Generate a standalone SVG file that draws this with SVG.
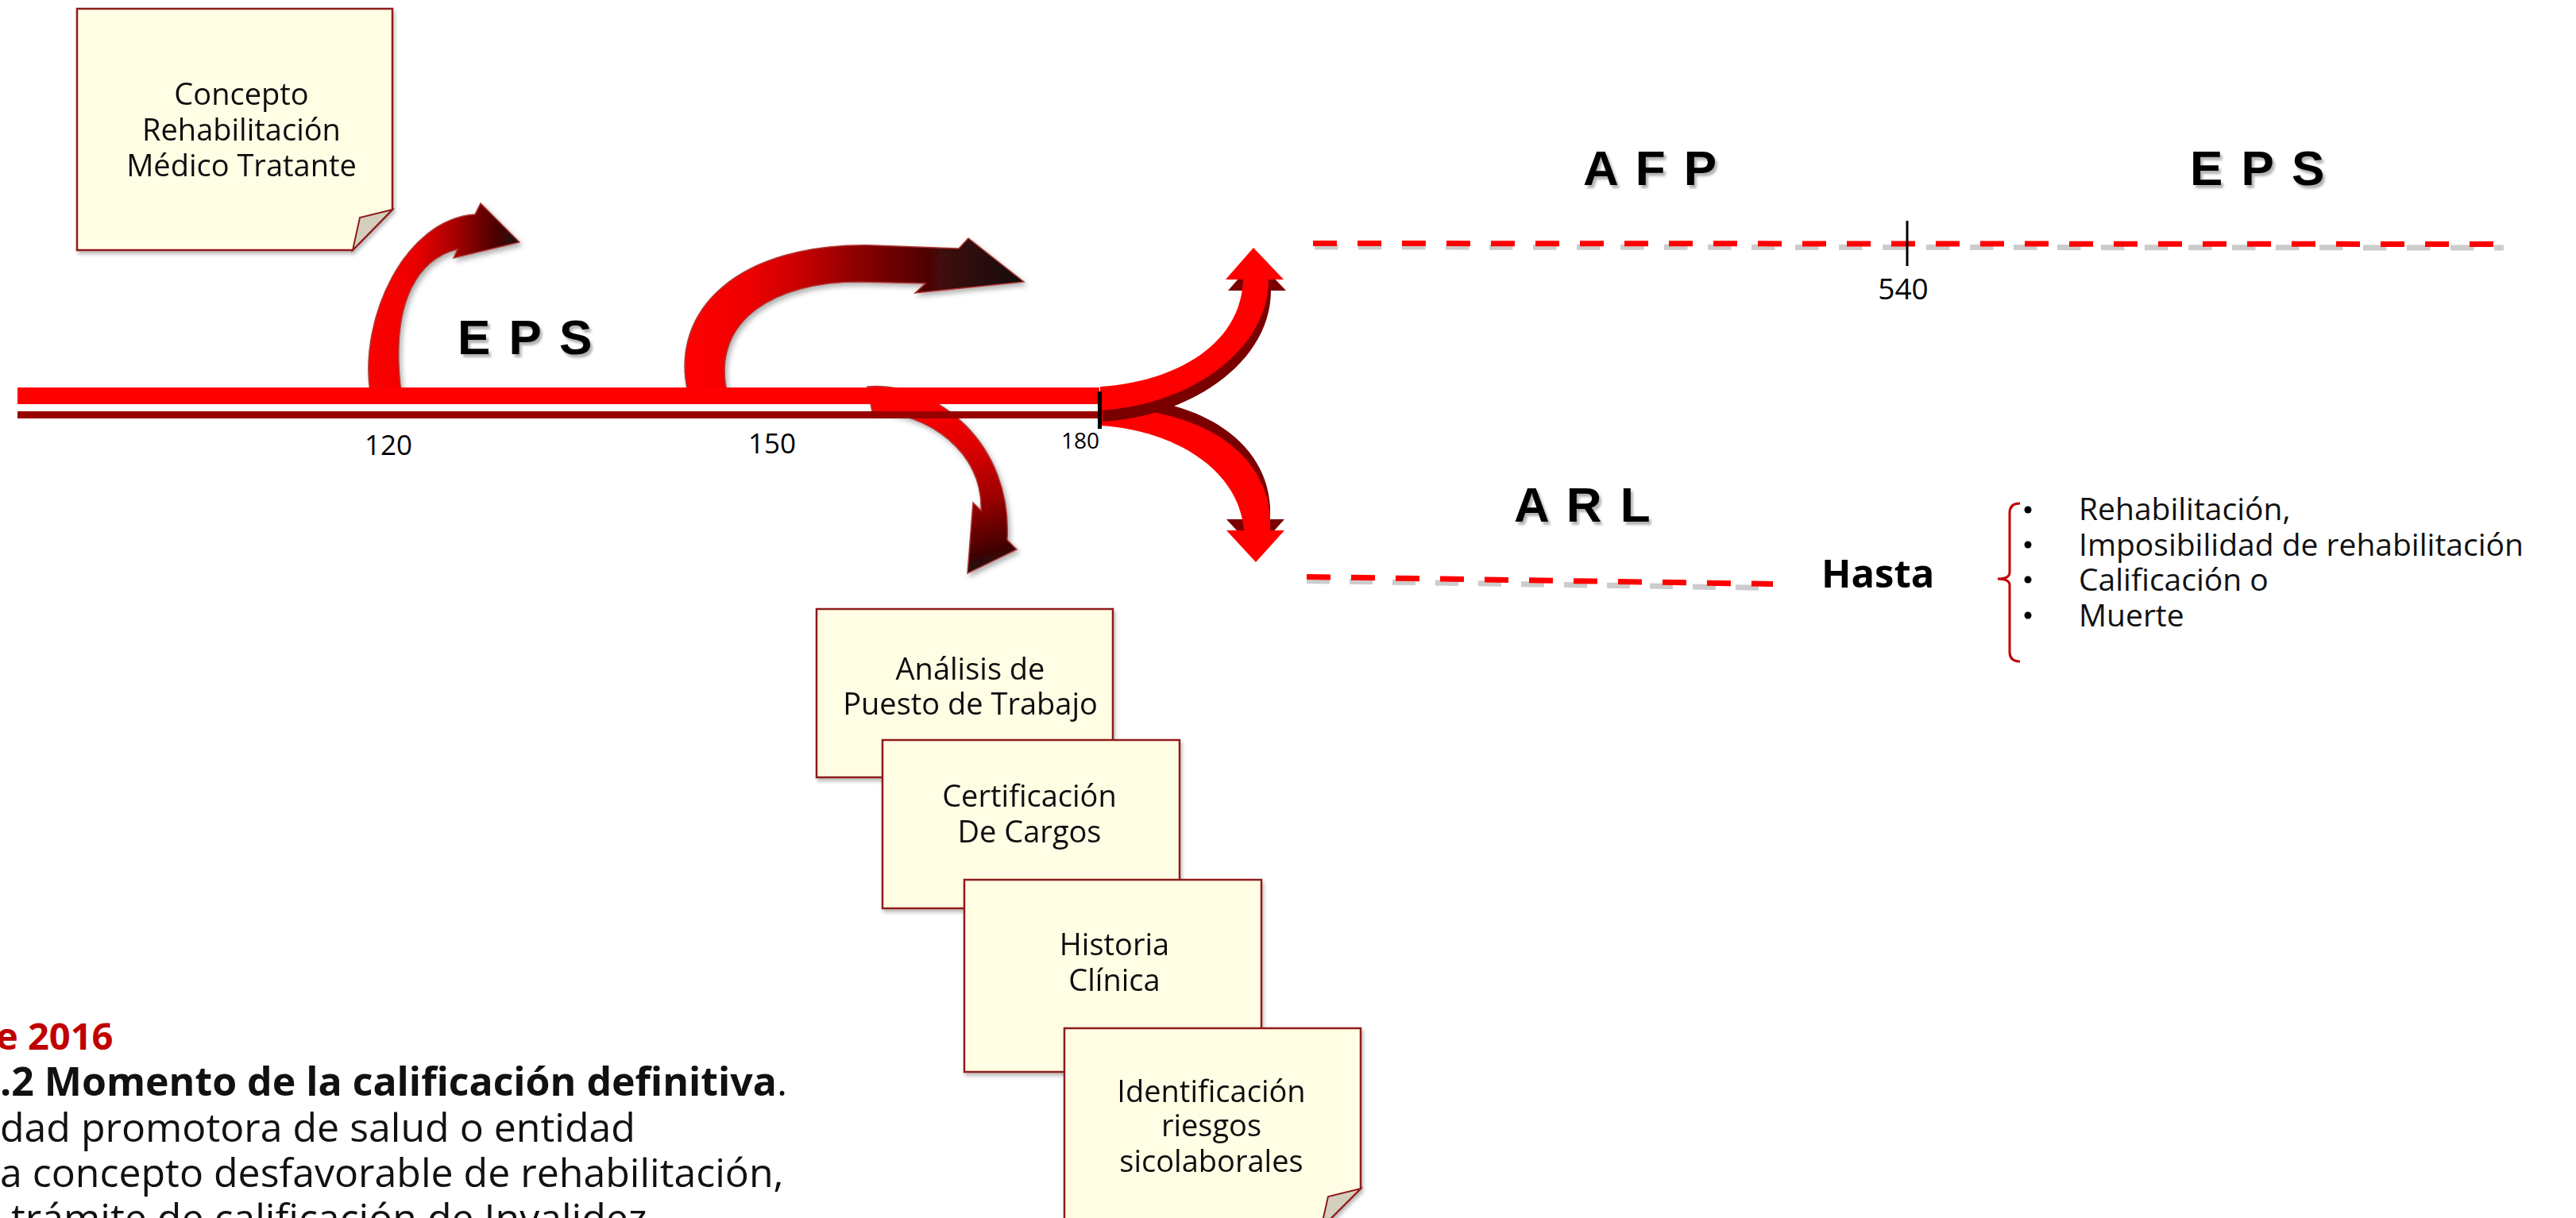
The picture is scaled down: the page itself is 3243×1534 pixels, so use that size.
<svg xmlns="http://www.w3.org/2000/svg" xmlns:xlink="http://www.w3.org/1999/xlink" width="3243" height="1534" viewBox="0 0 3243 1534">
<style>
.note{fill:#FFFDE4;stroke:#8E1B1B;stroke-width:2.5}
.fold{fill:#D3CFBC;stroke:#8E1B1B;stroke-width:2}
.nt{font-family:"Open Sans","Liberation Sans",sans-serif;font-size:38px;fill:#111;text-anchor:middle}
.big{font-family:"Liberation Sans","Arial",sans-serif;font-weight:700;font-size:62px;fill:#000}
.num{font-family:"Open Sans","Liberation Sans",sans-serif;fill:#000;text-anchor:middle}
.li{font-family:"Open Sans","Liberation Sans",sans-serif;font-size:39px;fill:#111}
.bt{font-family:"Open Sans","Liberation Sans",sans-serif;font-size:50px;fill:#111}
</style>
<defs>
<filter id="sh" x="-10%" y="-10%" width="130%" height="130%"><feDropShadow dx="2" dy="4" stdDeviation="2" flood-color="#000" flood-opacity="0.25"/></filter>
<filter id="tsh" x="-10%" y="-20%" width="130%" height="150%"><feDropShadow dx="3" dy="4" stdDeviation="1.5" flood-color="#000" flood-opacity="0.3"/></filter>
<filter id="ash" x="-10%" y="-10%" width="130%" height="130%"><feDropShadow dx="3" dy="4" stdDeviation="3" flood-color="#000" flood-opacity="0.3"/></filter>
<linearGradient id="g1" gradientUnits="userSpaceOnUse" x1="460" y1="0" x2="655" y2="0">
<stop offset="0" stop-color="#ff0000"/><stop offset="0.3" stop-color="#ee0000"/><stop offset="0.55" stop-color="#b00000"/><stop offset="0.78" stop-color="#600505"/><stop offset="1" stop-color="#1a0808"/>
</linearGradient>
<linearGradient id="g2" gradientUnits="userSpaceOnUse" x1="860" y1="0" x2="1290" y2="0">
<stop offset="0" stop-color="#ff0000"/><stop offset="0.19" stop-color="#ee0000"/><stop offset="0.33" stop-color="#cc0000"/><stop offset="0.51" stop-color="#8c0000"/><stop offset="0.79" stop-color="#380808"/><stop offset="1" stop-color="#140808"/>
</linearGradient>
<linearGradient id="g3" gradientUnits="userSpaceOnUse" x1="1180" y1="500" x2="1240" y2="720">
<stop offset="0" stop-color="#ff0000"/><stop offset="0.3" stop-color="#e00000"/><stop offset="0.6" stop-color="#a00000"/><stop offset="0.85" stop-color="#500505"/><stop offset="1" stop-color="#1a0808"/>
</linearGradient>
<path id="uf" d="M 1385 487 C 1470 482, 1562 440, 1565 352 L 1543 352 L 1578 312 L 1616 352 L 1597 352 C 1597 440, 1500 510, 1385 517 Z"/>
<path id="df" d="M 1385 514 C 1510 512, 1595 570, 1599 653 L 1599 668 L 1617 668 L 1581 708 L 1544 668 L 1566 668 C 1560 592, 1480 542, 1385 536 Z"/>
</defs>
<rect width="3243" height="1534" fill="#fff"/>

<g id="connectors">
  <path id="arrow-down" d="M 1092 487 C 1180 480, 1275 560, 1268 680 L 1280 692 L 1218 722 L 1225 633 L 1235 643 C 1238 570, 1170 520, 1098 518 Z" fill="url(#g3)" stroke="#b03838" stroke-width="1.5" filter="url(#ash)"/>
  <path id="arrow-120" d="M 466 494 C 452 400, 510 276, 598 270 L 605 256 L 654 305 L 571 325 L 576 314 C 530 325, 490 375, 505 494 Z" fill="url(#g1)" stroke="#b03838" stroke-width="1.5" filter="url(#ash)"/>
  <path id="arrow-150" d="M 866 494 C 842 390, 930 305, 1100 309 L 1207 313 L 1219 300 L 1289 355 L 1152 369 L 1165 357 L 1080 355 C 980 355, 895 400, 915 494 Z" fill="url(#g2)" stroke="#b03838" stroke-width="1.5" filter="url(#ash)"/>
  <g id="timeline">
    <rect x="22" y="488" width="1362" height="21" fill="#ff0000"/>
    <rect x="22" y="518" width="1362" height="9" fill="#990000"/>
  </g>
  <g id="fork">
    <use xlink:href="#df" href="#df" fill="#7a0000" transform="translate(0,-14)"/>
    <use xlink:href="#df" href="#df" fill="#ff0000"/>
    <use xlink:href="#uf" href="#uf" fill="#7a0000" transform="translate(3,14)"/>
    <use xlink:href="#uf" href="#uf" fill="#ff0000"/>
    <rect x="1382" y="493" width="5" height="47" fill="#000"/>
  </g>
  <g id="dash-afp-eps">
    <line x1="1655" y1="311" x2="3152" y2="312" stroke="#cccccc" stroke-width="7" stroke-dasharray="29.5 25.5"/>
    <line x1="1653" y1="306.5" x2="3150" y2="307.5" stroke="#ff0000" stroke-width="7" stroke-dasharray="30 26"/>
    <line x1="2401" y1="278" x2="2401" y2="335" stroke="#000" stroke-width="3"/>
  </g>
  <g id="dash-arl">
    <line x1="1645" y1="731.5" x2="2232" y2="740.5" stroke="#cccccc" stroke-width="7" stroke-dasharray="29 25"/>
    <line x1="1645" y1="726.5" x2="2232" y2="735.5" stroke="#ff0000" stroke-width="7" stroke-dasharray="30 26"/>
  </g>
</g>

<g id="labels">
  <text class="big" x="576" y="446" letter-spacing="3" filter="url(#tsh)">E P S</text>
  <text class="big" x="1993" y="233" letter-spacing="3" filter="url(#tsh)">A F P</text>
  <text class="big" x="2757" y="233" letter-spacing="3" filter="url(#tsh)">E P S</text>
  <text class="big" x="1906" y="657" letter-spacing="3" filter="url(#tsh)">A R L</text>
  <text class="num" x="489" y="573" font-size="35">120</text>
  <text class="num" x="972" y="571" font-size="35">150</text>
  <text class="num" x="1360" y="565" font-size="28">180</text>
  <text class="num" x="2396" y="377" font-size="37">540</text>
</g>

<g id="concepto" filter="url(#sh)">
  <path class="note" d="M97 11 H494 V264 L444 315 H97 Z"/>
  <path class="fold" d="M494 264 L453 274 L444 315 Z"/>
  <text class="nt" x="304" y="132">Concepto</text>
  <text class="nt" x="304" y="177">Rehabilitación</text>
  <text class="nt" x="304" y="221.5">Médico Tratante</text>
</g>

<g id="analisis" filter="url(#sh)">
  <rect class="note" x="1028" y="767" width="373" height="212"/>
  <text class="nt" x="1221.5" y="856">Análisis de</text>
  <text class="nt" x="1221.5" y="900">Puesto de Trabajo</text>
</g>
<g id="certificacion" filter="url(#sh)">
  <rect class="note" x="1111" y="932" width="374" height="212"/>
  <text class="nt" x="1296" y="1016">Certificación</text>
  <text class="nt" x="1296" y="1061">De Cargos</text>
</g>
<g id="historia" filter="url(#sh)">
  <rect class="note" x="1214" y="1108" width="374" height="242"/>
  <text class="nt" x="1403" y="1202.5">Historia</text>
  <text class="nt" x="1403" y="1247.5">Clínica</text>
</g>
<g id="identificacion" filter="url(#sh)">
  <path class="note" d="M1340 1295 H1713 V1497 L1663 1547 H1340 Z"/>
  <path class="fold" d="M1713 1497 L1672 1507 L1663 1547 Z"/>
  <text class="nt" x="1525" y="1387.5">Identificación</text>
  <text class="nt" x="1525" y="1431">riesgos</text>
  <text class="nt" x="1525" y="1476">sicolaborales</text>
</g>

<g id="hasta">
  <text x="2293" y="740" font-family="'Open Sans','Liberation Sans',sans-serif" font-weight="700" font-size="49" fill="#000">Hasta</text>
  <path d="M 2543 634 Q 2530 634, 2530 646 L 2530 721 Q 2530 729, 2515 729 Q 2530 729, 2530 737 L 2530 821 Q 2530 833, 2543 833" fill="none" stroke="#C00000" stroke-width="3"/>
  <g fill="#000">
    <circle cx="2553" cy="642" r="4.5"/><circle cx="2553" cy="686" r="4.5"/><circle cx="2553" cy="730" r="4.5"/><circle cx="2553" cy="775" r="4.5"/>
  </g>
  <text class="li" x="2617" y="655">Rehabilitación,</text>
  <text class="li" x="2617" y="700">Imposibilidad de rehabilitación</text>
  <text class="li" x="2617" y="744">Calificación o</text>
  <text class="li" x="2617" y="789">Muerte</text>
</g>

<g id="nota-legal">
  <text x="-5" y="1322" font-family="'Open Sans','Liberation Sans',sans-serif" font-weight="700" font-size="47" fill="#C00000">e 2016</text>
  <text class="bt" x="0" y="1380"><tspan font-weight="700">.2 Momento de la calificación definitiva</tspan>.</text>
  <text class="bt" x="0" y="1438">dad promotora de salud o entidad</text>
  <text class="bt" x="0" y="1495">a concepto desfavorable de rehabilitación,</text>
  <text class="bt" x="14" y="1552">trámite de calificación de Invalidez</text>
</g>
</svg>
